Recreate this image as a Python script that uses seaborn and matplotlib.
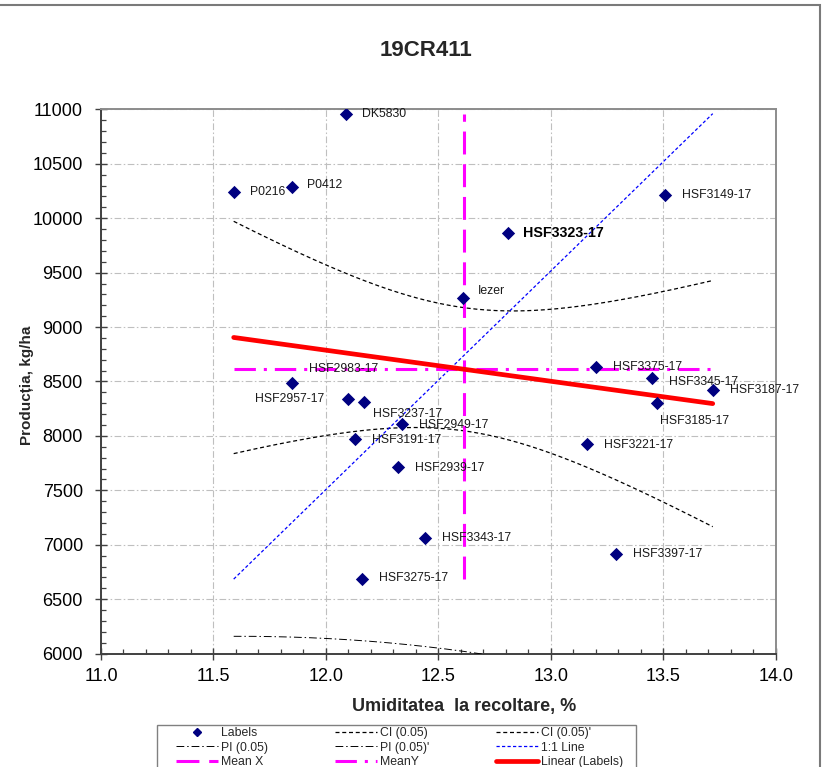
import numpy as np
import pandas as pd
import matplotlib
matplotlib.use("Agg")
import matplotlib.pyplot as plt
from matplotlib.lines import Line2D
from matplotlib.patches import Rectangle
from matplotlib.ticker import MultipleLocator
import seaborn as sns

# ---- data: harvest moisture (%) vs. grain yield (kg/ha), trial 19CR411 ----
hybrids = ["DK5830", "P0216", "P0412", "HSF3149-17", "HSF3323-17", "Iezer",
           "HSF3375-17", "HSF3345-17", "HSF3187-17", "HSF3185-17",
           "HSF2983-17", "HSF2957-17", "HSF3237-17", "HSF2949-17", "HSF3191-17",
           "HSF2939-17", "HSF3343-17", "HSF3275-17", "HSF3221-17", "HSF3397-17"]
moisture = [12.09, 11.59, 11.85, 13.51, 12.81, 12.61,
            13.20, 13.45, 13.72, 13.47,
            11.85, 12.10, 12.17, 12.34, 12.13,
            12.32, 12.44, 12.16, 13.16, 13.29]
yield_kg = [10960, 10240, 10290, 10210, 9860, 9270,
            8630, 8535, 8420, 8305,
            8490, 8340, 8315, 8110, 7970,
            7715, 7065, 6685, 7925, 6920]

x_ticks = [11.0, 11.5, 12.0, 12.5, 13.0, 13.5, 14.0]
y_ticks = [6000, 6500, 7000, 7500, 8000, 8500, 9000, 9500, 10000, 10500, 11000]

# label placement around each marker: (dx, dy) in pixels, horizontal alignment
label_offsets = {
    "DK5830": (16, 0, "left"), "P0216": (16, 0, "left"), "P0412": (15, 1.5, "left"),
    "HSF3149-17": (17, 0, "left"), "HSF3323-17": (15, 0, "left"), "Iezer": (15, 7, "left"),
    "HSF3375-17": (17, 0, "left"), "HSF3345-17": (17, -4, "left"),
    "HSF3187-17": (17, 0, "left"), "HSF3185-17": (3, -18, "left"),
    "HSF2983-17": (17, 14, "left"), "HSF2957-17": (-24, 0, "right"),
    "HSF3237-17": (9, -12, "left"), "HSF2949-17": (17, -1, "left"),
    "HSF3191-17": (17, -1, "left"), "HSF2939-17": (17, -1, "left"),
    "HSF3343-17": (17, 0, "left"), "HSF3275-17": (17, 1, "left"),
    "HSF3221-17": (17, -1, "left"), "HSF3397-17": (17, 0, "left"),
}
bold_labels = {"HSF3323-17"}

df = pd.DataFrame({"hybrid": hybrids, "moisture": moisture, "yield": yield_kg})

# ---- regression with 95 % confidence / prediction bands ----
x = df["moisture"].to_numpy(float)
y = df["yield"].to_numpy(float)
n = len(x)
slope, intercept = np.polyfit(x, y, 1)
x_mean, y_mean = x.mean(), y.mean()
resid = y - (intercept + slope * x)
s_err = np.sqrt(np.sum(resid ** 2) / (n - 2))
sxx = np.sum((x - x_mean) ** 2)
T_CRIT = 2.100922  # Student t, 0.975 quantile, 18 degrees of freedom

xs = np.linspace(x.min(), x.max(), 200)
fit = intercept + slope * xs
ci = T_CRIT * s_err * np.sqrt(1 / n + (xs - x_mean) ** 2 / sxx)
pi = T_CRIT * s_err * np.sqrt(1 + 1 / n + (xs - x_mean) ** 2 / sxx)

# ---- styling ----
sns.set_style("white")
plt.rcParams["font.family"] = ["Liberation Sans", "DejaVu Sans"]

fig = plt.figure(figsize=(8.22, 7.67), dpi=100)
W, H = 822, 767
ax = fig.add_axes([101 / W, 1 - 653.7 / H, (775.7 - 101) / W, (653.7 - 109.3) / H])

NAVY = "#000080"
MAGENTA = "#FF00FF"

# intervals
ax.plot(xs, fit + ci, color="black", lw=0.9, dashes=(3.2, 2.2), zorder=3)
ax.plot(xs, fit - ci, color="black", lw=0.9, dashes=(3.2, 2.2), zorder=3)
ax.plot(xs, fit + pi, color="black", lw=0.7, dashes=(8, 3, 1.5, 3), zorder=3)
ax.plot(xs, fit - pi, color="black", lw=0.7, dashes=(8, 3, 1.5, 3), zorder=3)

# 1:1 line between data extremes
ax.plot([x.min(), x.max()], [y.min(), y.max()], color="#0000FF", lw=0.9,
        dashes=(2.6, 1.8), zorder=3)

# means
ax.plot([x_mean, x_mean], [y.min(), y.max()], color=MAGENTA, lw=2.2,
        dashes=(7.5, 3.2), zorder=4)
ax.plot([x.min(), x.max()], [y_mean, y_mean], color=MAGENTA, lw=2.2,
        dashes=(7, 2.6, 1, 2.6), zorder=4)

# linear trend
ax.plot(xs, fit, color="#FF0000", lw=3.4, solid_capstyle="round", zorder=4)

# points
sns.scatterplot(data=df, x="moisture", y="yield", marker="D", s=46,
                color=NAVY, edgecolor=NAVY, linewidth=0, ax=ax, zorder=6,
                legend=False)

for name, xv, yv in zip(df["hybrid"], x, y):
    dx, dy, ha = label_offsets[name]
    bold = name in bold_labels
    ax.annotate(name, (xv, yv), xytext=(dx, dy), textcoords="offset pixels",
                ha=ha, va="center", fontsize=10.3 if bold else 8.8,
                fontweight="bold" if bold else "normal",
                color="black" if bold else "#1a1a1a", zorder=7)

# axes
ax.set_xlim(11.0, 14.0)
ax.set_ylim(6000, 11000)
ax.set_xticks(x_ticks)
ax.set_yticks(y_ticks)
ax.set_xticklabels([f"{v:.1f}" for v in x_ticks])
ax.set_yticklabels([str(v) for v in y_ticks])
ax.xaxis.set_minor_locator(MultipleLocator(0.1))
ax.yaxis.set_minor_locator(MultipleLocator(100))
ax.tick_params(which="major", direction="inout", length=8, width=1.0,
               color="#404040", labelsize=13, labelcolor="black")
ax.tick_params(axis="y", which="major", pad=9)
ax.tick_params(axis="x", which="major", pad=6)
ax.tick_params(which="minor", direction="in", length=3.5, width=0.9, color="#404040")
ax.tick_params(which="both", bottom=True, left=True, top=False, right=False)
ax.set_xlabel("")
ax.set_ylabel("")

ax.grid(True, which="major", color="#BFBFBF", lw=0.8, dashes=(6, 2.2, 1.4, 2.2))
ax.set_axisbelow(True)
for side in ("left", "bottom"):
    ax.spines[side].set_color("#404040")
    ax.spines[side].set_linewidth(1.4)
for side in ("top", "right"):
    ax.spines[side].set_color("#8c8c8c")
    ax.spines[side].set_linewidth(1.4)

# titles
fig.text(425.5 / W, 1 - 50 / H, "19CR411", ha="center", va="center",
         fontsize=16, fontweight="bold")
fig.text(464 / W, 1 - 707 / H, "Umiditatea  la recoltare, %", ha="center",
         va="center", fontsize=13, fontweight="bold")
fig.text(27 / W, 1 - 385 / H, "Producția, kg/ha", ha="center", va="center",
         rotation=90, fontsize=11, fontweight="bold")

# legend (column-major order for three columns)
h_labels = Line2D([], [], ls="none", marker="D", ms=4, color=NAVY)
h_ci = Line2D([], [], color="black", lw=0.9, dashes=(3.2, 2.2))
h_ci2 = Line2D([], [], color="black", lw=0.9, dashes=(3.2, 2.2))
h_pi = Line2D([], [], color="black", lw=0.7, dashes=(8, 3, 1.5, 3))
h_pi2 = Line2D([], [], color="black", lw=0.7, dashes=(8, 3, 1.5, 3))
h_11 = Line2D([], [], color="#0000FF", lw=0.9, dashes=(2.6, 1.8))
h_mx = Line2D([], [], color=MAGENTA, lw=2.2, dashes=(7.5, 3.2))
h_my = Line2D([], [], color=MAGENTA, lw=2.2, dashes=(7, 2.6, 1, 2.6))
h_lin = Line2D([], [], color="#FF0000", lw=3.4)

handles = [h_labels, h_pi, h_mx, h_ci, h_pi2, h_my, h_ci2, h_11, h_lin]
labels = ["Labels", "PI (0.05)", "Mean X", "CI (0.05)", "PI (0.05)'", "MeanY",
          "CI (0.05)'", "1:1 Line", "Linear (Labels)"]
fig.legend(handles, labels, ncol=3, loc="upper left",
           bbox_to_anchor=(176 / W, 1 - 727 / H), bbox_transform=fig.transFigure,
           frameon=False, fontsize=8.8, borderpad=0, borderaxespad=0,
           handlelength=3.45, handletextpad=0.25, columnspacing=5.45,
           labelspacing=0.22, handleheight=0.7)
fig.patches.append(Rectangle((157 / W, -0.05), (636 - 157) / W, 0.05 + 1 - 725 / H,
                             transform=fig.transFigure, fill=False,
                             edgecolor="#808080", lw=1.0))

# outer chart frame
fig.patches.append(Rectangle((-0.01, -0.02), 0.01 + 820 / W, 0.02 + 1 - 5 / H,
                             transform=fig.transFigure, fill=False,
                             edgecolor="#7a7a7a", lw=1.5))

fig.savefig("out.png", dpi=100)
